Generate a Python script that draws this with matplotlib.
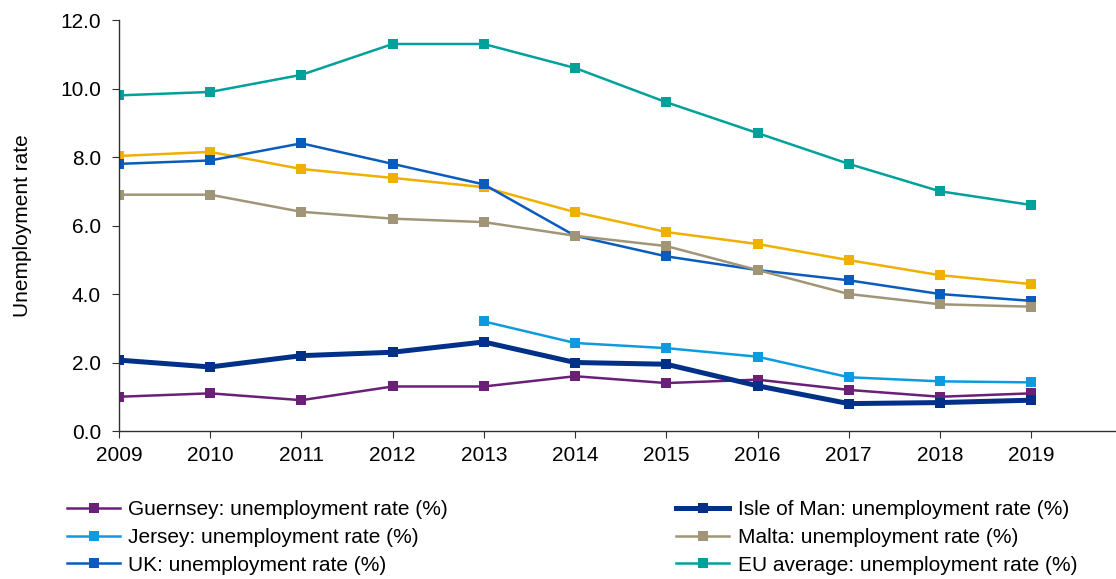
import numpy as np
import matplotlib
matplotlib.use('Agg')
import matplotlib.pyplot as plt

# ── Data ──────────────────────────────────────────────────────────────────────
YEARS = list(range(2009, 2020))

guernsey    = [1.0, 1.1, 0.9, 1.3, 1.3, 1.6, 1.4, 1.5, 1.2, 1.0, 1.1]
isle_of_man = [2.07, 1.87, 2.2, 2.3, 2.6, 2.0, 1.95, 1.32, 0.8, 0.83, 0.9]
jersey      = [np.nan] * 4 + [3.2, 2.57, 2.42, 2.17, 1.57, 1.45, 1.42]
malta       = [6.9, 6.9, 6.4, 6.2, 6.1, 5.7, 5.4, 4.7, 4.0, 3.7, 3.63]
uk          = [7.8, 7.9, 8.4, 7.8, 7.2, 5.7, 5.1, 4.7, 4.4, 4.0, 3.8]
eu_average  = [9.8, 9.9, 10.4, 11.3, 11.3, 10.6, 9.6, 8.7, 7.8, 7.0, 6.6]
other       = [8.03, 8.15, 7.65, 7.39, 7.12, 6.39, 5.81, 5.46, 4.99, 4.55, 4.29]

LABELS = {
    'guernsey': 'Guernsey: unemployment rate (%)',
    'iom':      'Isle of Man: unemployment rate (%)',
    'jersey':   'Jersey: unemployment rate (%)',
    'malta':    'Malta: unemployment rate (%)',
    'uk':       'UK: unemployment rate (%)',
    'eu':       'EU average: unemployment rate (%)',
}

# ── Styles ────────────────────────────────────────────────────────────────────
FS = 15
plt.rcParams.update({'font.family': ['Liberation Sans', 'DejaVu Sans'],
                     'font.size': FS})

STYLES = {
    'eu':       dict(color='#00a19a', lw=1.8),
    'other':    dict(color='#f0b000', lw=1.8),
    'uk':       dict(color='#0a5cbc', lw=1.8),
    'malta':    dict(color='#a09677', lw=1.8),
    'jersey':   dict(color='#0d9be0', lw=1.8),
    'iom':      dict(color='#003088', lw=3.6),
    'guernsey': dict(color='#6a2077', lw=1.8),
}

fig = plt.figure(figsize=(11.16, 5.79), dpi=100)
ax = fig.add_axes([0.1066, 0.2556, 0.8934, 0.7098])

series = [('eu', eu_average), ('other', other), ('uk', uk), ('malta', malta),
          ('jersey', jersey), ('guernsey', guernsey), ('iom', isle_of_man)]
handles = {}
for key, vals in series:
    st = STYLES[key]
    line, = ax.plot(YEARS, vals, color=st['color'], lw=st['lw'],
                    marker='s', markersize=7, markeredgewidth=0,
                    label=LABELS.get(key, '_nolegend_'),
                    solid_joinstyle='miter')
    handles[key] = line

ax.set_ylim(0, 12)
ax.set_xlim(2009, 2019 + 0.93)
ax.set_yticks(np.arange(0, 12.1, 2))
ax.set_yticklabels([f'{v:.1f}' for v in np.arange(0, 12.1, 2)])
ax.set_xticks(YEARS)
ax.set_xticklabels([str(y) for y in YEARS])
ax.set_ylabel('Unemployment rate', labelpad=20)

for s in ['top', 'right']:
    ax.spines[s].set_visible(False)
for s in ['left', 'bottom']:
    ax.spines[s].set_color('#303030')
    ax.spines[s].set_linewidth(1.0)
ax.tick_params(axis='both', direction='out', length=5, color='#303030',
               labelcolor='black', labelsize=FS)
ax.tick_params(axis='y', pad=8)
ax.tick_params(axis='x', pad=6)
ax.patch.set_visible(False)

# ── Legend: two columns placed beneath the axes ──────────────────────────────
leg_kw = dict(frameon=False, loc='upper left', fontsize=FS, numpoints=1,
              handlelength=2.55, handletextpad=0.4, labelspacing=0.42,
              borderpad=0, borderaxespad=0)
leg1 = fig.legend([handles[k] for k in ['guernsey', 'jersey', 'uk']],
                  [LABELS[k] for k in ['guernsey', 'jersey', 'uk']],
                  bbox_to_anchor=(0.060, 0.136), **leg_kw)
leg2 = fig.legend([handles[k] for k in ['iom', 'malta', 'eu']],
                  [LABELS[k] for k in ['iom', 'malta', 'eu']],
                  bbox_to_anchor=(0.606, 0.136), **leg_kw)

fig.savefig('out.png', dpi=100)
